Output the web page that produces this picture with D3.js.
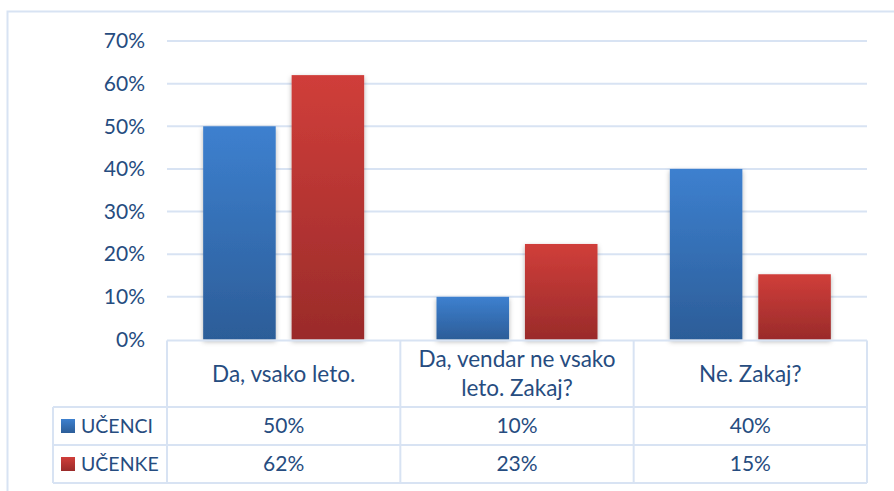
<!DOCTYPE html>
<html>
<head>
<meta charset="utf-8">
<script src="https://cdn.jsdelivr.net/npm/d3@7"></script>
<style>
  body { margin: 0; background: #fff; }
  svg text { font-family: Lato, "Open Sans", sans-serif; fill: #264c80; }
</style>
</head>
<body>
<div id="container"></div>
<script>
// Data
const categories = [["Da, vsako leto."], ["Da, vendar ne vsako", "leto. Zakaj?"], ["Ne. Zakaj?"]];
const series = ["UČENCI", "UČENKE"];
const ucenci = [0.50, 0.10, 0.40];
const ucenke = [0.62, 0.224, 0.153];
const ucenciLabels = ["50%", "10%", "40%"];
const ucenkeLabels = ["62%", "23%", "15%"];
const yTicks = [0, 0.1, 0.2, 0.3, 0.4, 0.5, 0.6, 0.7];

const width = 894;
const height = 491;
const fontSize = 21;
const headerSize = 22.5;
const legendSize = 19.5;
const gridColor = "#d8e3f3";

const svg = d3.select('#container')
    .append('svg')
    .attr('width', width)
    .attr('height', height);

// gradients + shadow
const defs = svg.append('defs');
const grads = [["gBlue", "#3d80cf", "#2c5d98"], ["gRed", "#d03e3a", "#9a2b2a"]];
grads.forEach(([id, top, bottom]) => {
    const g = defs.append('linearGradient').attr('id', id)
        .attr('x1', 0).attr('y1', 0).attr('x2', 0).attr('y2', 1);
    g.append('stop').attr('offset', '0%').attr('stop-color', top);
    g.append('stop').attr('offset', '100%').attr('stop-color', bottom);
});
defs.append('filter').attr('id', 'shadow')
    .attr('x', '-20%').attr('y', '-10%').attr('width', '140%').attr('height', '130%')
    .append('feDropShadow')
    .attr('dx', 0).attr('dy', 2).attr('stdDeviation', 2.5)
    .attr('flood-color', '#000').attr('flood-opacity', 0.3);

// chart outer border (runs past the window edge)
svg.append('rect')
    .attr('x', 7.5).attr('y', 11.5)
    .attr('width', 900).attr('height', 500)
    .attr('fill', 'none')
    .attr('stroke', gridColor)
    .attr('stroke-width', 2);

// scales
const plotLeft = 167, plotRight = 867;
const x0 = d3.scaleBand()
    .domain(d3.range(categories.length))
    .range([plotLeft, plotRight]);

const x1 = d3.scaleBand()
    .domain(series)
    .range([x0.bandwidth() * 0.155, x0.bandwidth() * 0.845])
    .paddingInner(0.18);

const y = d3.scaleLinear()
    .domain([0, 0.7])
    .range([339.5, 41]);

// gridlines
svg.append('g')
    .selectAll('line')
    .data(yTicks.slice(1))
    .enter().append('line')
    .attr('x1', plotLeft)
    .attr('x2', plotRight)
    .attr('y1', d => y(d))
    .attr('y2', d => y(d))
    .attr('stroke', gridColor)
    .attr('stroke-width', 2);

// y axis
const yAxis = d3.axisLeft(y)
    .tickValues(yTicks)
    .tickFormat(d3.format('.0%'))
    .tickSize(0)
    .tickPadding(0);

svg.append('g')
    .attr('transform', 'translate(145,0)')
    .call(yAxis)
    .call(g => g.select('.domain').remove())
    .selectAll('text')
    .attr('font-size', fontSize)
    .attr('font-family', null)
    .attr('fill', null);

// bars
const values = [ucenci, ucenke];
const fills = ["url(#gBlue)", "url(#gRed)"];

const groups = svg.append('g')
    .selectAll('g')
    .data(categories.map((c, i) => i))
    .enter().append('g')
    .attr('transform', i => `translate(${x0(i)},0)`);

groups.selectAll('rect')
    .data(i => series.map((s, k) => ({ s, k, v: values[k][i] })))
    .enter().append('rect')
    .attr('x', d => x1(d.s))
    .attr('width', x1.bandwidth())
    .attr('y', d => y(d.v))
    .attr('height', d => y(0) - y(d.v))
    .attr('fill', d => fills[d.k])
    .attr('filter', 'url(#shadow)');

// data table
const tableTop = 340.5, headerBottom = 407, row1Bottom = 445, tableBottom = 483;
const legendLeft = 53;
const rowBounds = [[headerBottom, row1Bottom], [row1Bottom, tableBottom]];
const table = svg.append('g')
    .attr('stroke', gridColor)
    .attr('stroke-width', 2)
    .attr('fill', 'none');

// horizontal lines
table.append('line').attr('x1', plotLeft).attr('x2', plotRight).attr('y1', tableTop).attr('y2', tableTop);
[headerBottom, row1Bottom, tableBottom].forEach(yy => {
    table.append('line').attr('x1', legendLeft).attr('x2', plotRight).attr('y1', yy).attr('y2', yy);
});
// vertical lines
table.append('line').attr('x1', legendLeft).attr('x2', legendLeft).attr('y1', headerBottom).attr('y2', tableBottom);
d3.range(categories.length + 1).forEach(i => {
    const xx = i < categories.length ? x0(i) : plotRight;
    table.append('line').attr('x1', xx).attr('x2', xx).attr('y1', tableTop).attr('y2', tableBottom);
});

// header labels
const lineGap = 29;
svg.append('g')
    .selectAll('text')
    .data(categories)
    .enter().append('text')
    .attr('text-anchor', 'middle')
    .attr('font-size', headerSize)
    .attr('x', (d, i) => x0(i) + x0.bandwidth() / 2)
    .attr('y', d => (tableTop + headerBottom) / 2 - (d.length - 1) * lineGap / 2)
    .each(function (d) {
        const t = d3.select(this);
        const cx = t.attr('x');
        d.forEach((line, j) => {
            t.append('tspan').attr('x', cx).attr('dy', j === 0 ? '0.35em' : lineGap).text(line);
        });
    });

// value rows + legend
const rowLabels = [ucenciLabels, ucenkeLabels];
const keyFills = ["url(#gBlue)", "url(#gRed)"];
series.forEach((s, k) => {
    const cy = (rowBounds[k][0] + rowBounds[k][1]) / 2;
    svg.append('rect')
        .attr('x', 61).attr('y', cy - 7)
        .attr('width', 14).attr('height', 14)
        .attr('fill', keyFills[k]);
    svg.append('text')
        .attr('x', 81).attr('y', cy)
        .attr('dy', '0.35em')
        .attr('font-size', legendSize)
        .text(s);
    svg.append('g')
        .selectAll('text')
        .data(rowLabels[k])
        .enter().append('text')
        .attr('text-anchor', 'middle')
        .attr('font-size', fontSize)
        .attr('x', (d, i) => x0(i) + x0.bandwidth() / 2)
        .attr('y', cy)
        .attr('dy', '0.35em')
        .text(d => d);
});
</script>
</body>
</html>
